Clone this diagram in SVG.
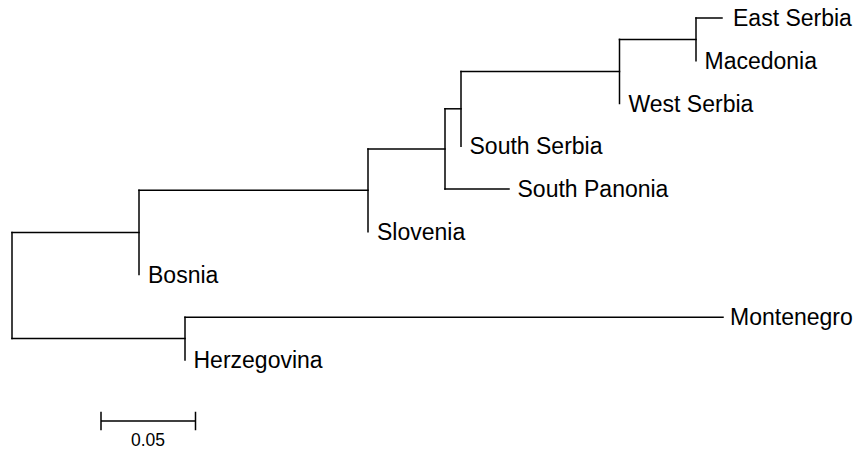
<svg xmlns="http://www.w3.org/2000/svg" width="856" height="453" viewBox="0 0 856 453">
  <style>
    .br { fill: none; stroke: #000; stroke-width: 1.5; stroke-linecap: square; }
    .lbl { font-family: "Liberation Sans", Arial, sans-serif; font-size: 23px; fill: #000; }
    .scale { font-family: "Liberation Sans", Arial, sans-serif; font-size: 17.5px; fill: #000; text-anchor: middle; }
  </style>
  <rect width="856" height="453" fill="#fff"/>

  <!-- tree branches (rectangular cladogram) -->
  <g id="connectors" class="br">
    <!-- root -->
    <path d="M12 232.4 V338.6"/>
    <path d="M12 232.4 H139"/>
    <path d="M12 338.6 H185"/>
    <!-- Bosnia node -->
    <path d="M139 190.3 V274.5"/>
    <path d="M139 190.3 H368"/>
    <!-- Slovenia node -->
    <path d="M368 148.9 V231.75"/>
    <path d="M368 148.9 H445"/>
    <!-- South Panonia node -->
    <path d="M445 108.8 V189"/>
    <path d="M445 189 H509"/>
    <path d="M445 108.8 H461"/>
    <!-- South Serbia node -->
    <path d="M461 71.4 V146.25"/>
    <path d="M461 71.4 H619.5"/>
    <!-- West Serbia node -->
    <path d="M619.5 39.4 V103.5"/>
    <path d="M619.5 39.4 H696"/>
    <!-- East Serbia / Macedonia -->
    <path d="M696 18 V60.75"/>
    <path d="M696 18 H722"/>
    <!-- Herzegovina / Montenegro -->
    <path d="M185 317.25 V360"/>
    <path d="M185 317.25 H723"/>
  </g>

  <g id="east-serbia"><text class="lbl" x="733" y="26">East Serbia</text></g>
  <g id="macedonia"><text class="lbl" x="704.5" y="68.75">Macedonia</text></g>
  <g id="west-serbia"><text class="lbl" x="628.5" y="111.5">West Serbia</text></g>
  <g id="south-serbia"><text class="lbl" x="469.5" y="154.25">South Serbia</text></g>
  <g id="south-panonia"><text class="lbl" x="517.5" y="197">South Panonia</text></g>
  <g id="slovenia"><text class="lbl" x="377" y="239.75">Slovenia</text></g>
  <g id="bosnia"><text class="lbl" x="148" y="282.5">Bosnia</text></g>
  <g id="montenegro"><text class="lbl" x="730" y="325.25">Montenegro</text></g>
  <g id="herzegovina"><text class="lbl" x="193.5" y="368">Herzegovina</text></g>

  <!-- scale bar -->
  <g id="scale-bar">
    <path class="br" d="M101 421 H195.5 M101 412.5 V429.5 M195.5 412.5 V429.5" stroke-linecap="butt"/>
    <text class="scale" x="148" y="446">0.05</text>
  </g>
</svg>
